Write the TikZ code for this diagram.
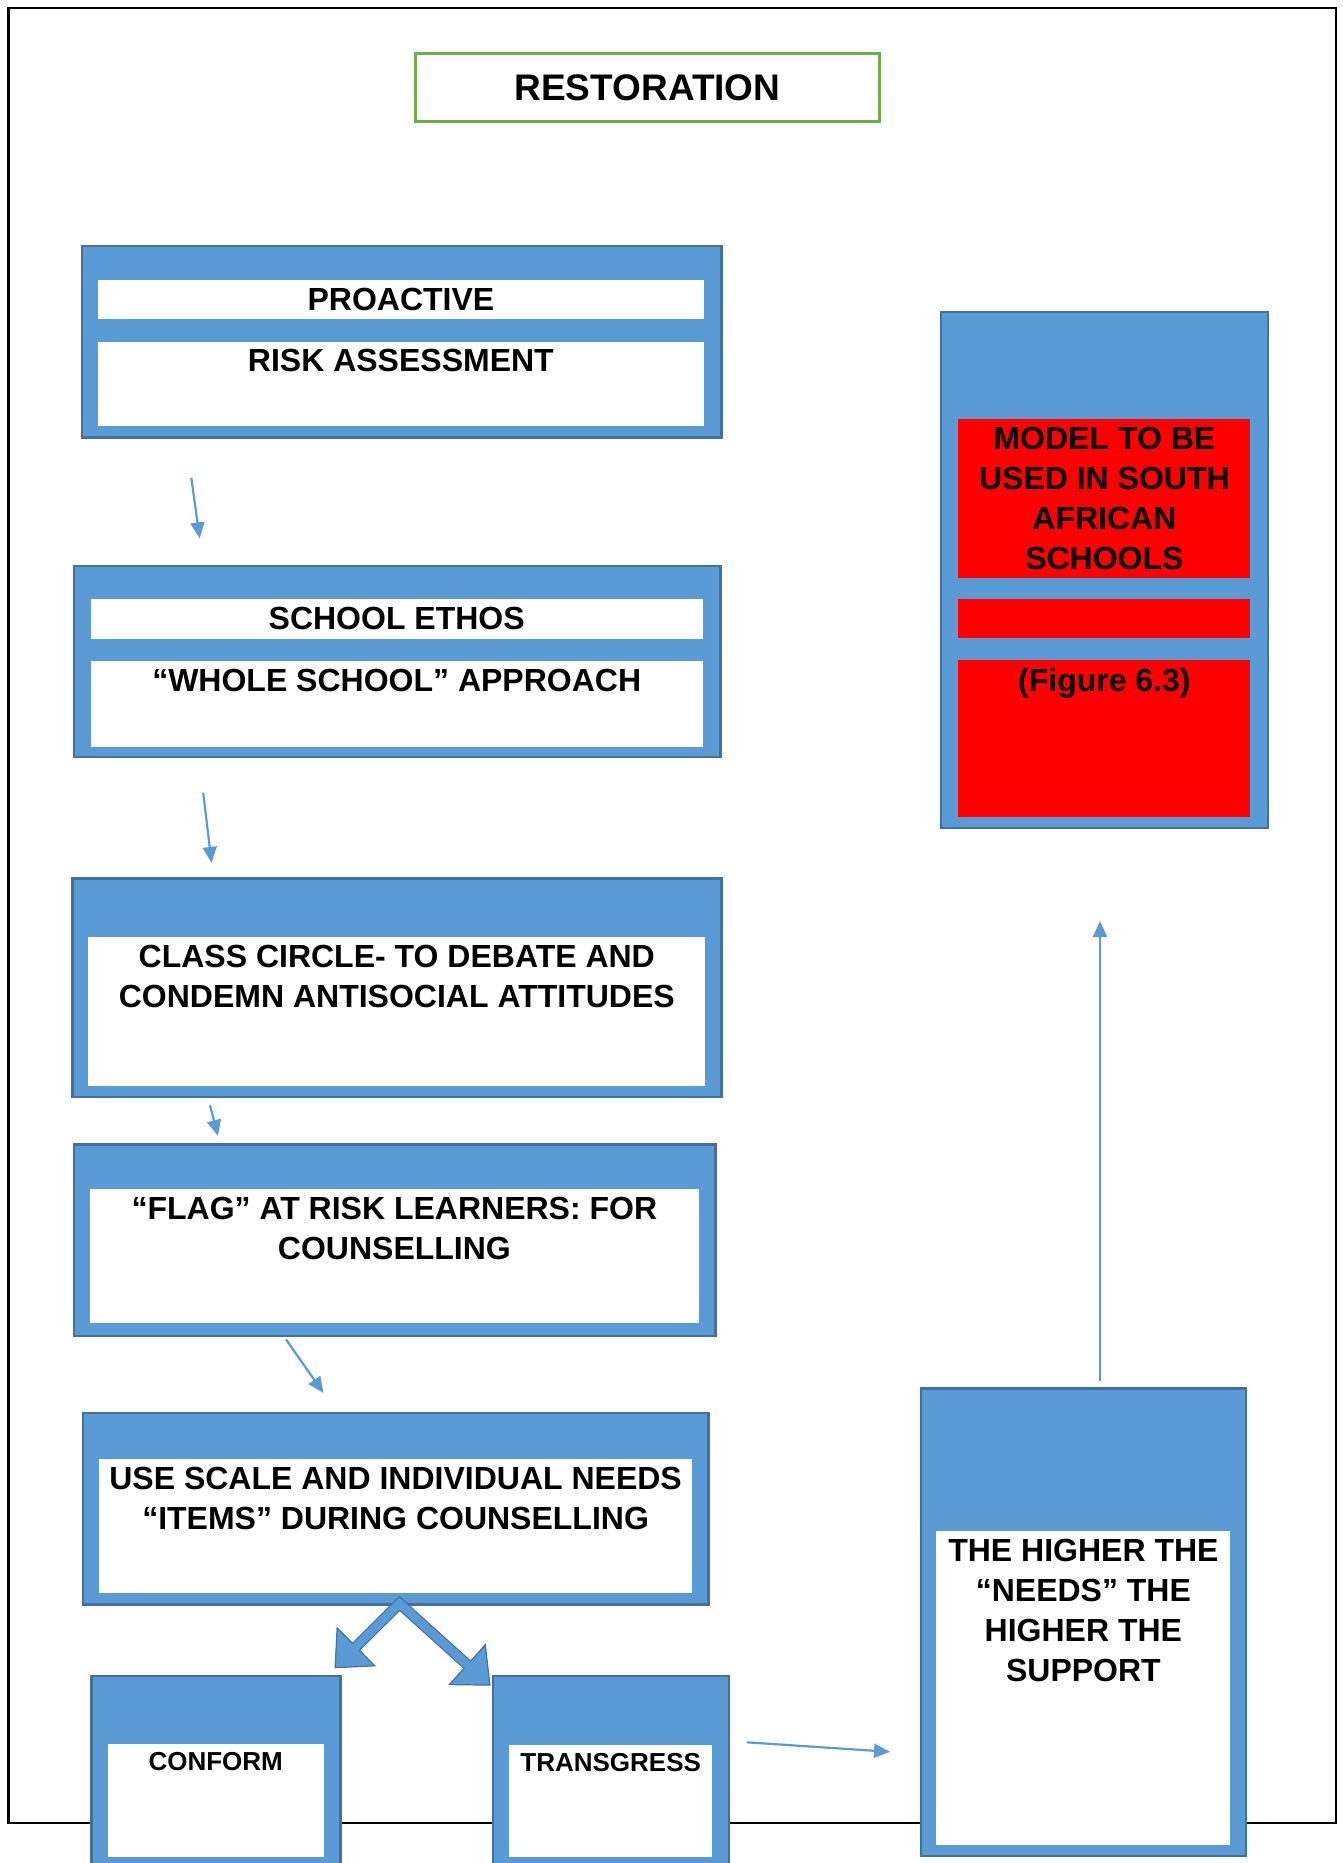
\documentclass[tikz,border=0pt]{standalone}
\usepackage{fontspec}
\setmainfont{Liberation Sans}
\usetikzlibrary{arrows.meta}
\definecolor{boxblue}{RGB}{91,155,213}
\definecolor{edgeblue}{RGB}{65,113,156}
\definecolor{titlegreen}{RGB}{112,173,71}
\definecolor{modelred}{RGB}{255,0,0}

\begin{document}
\begin{tikzpicture}[x=0.5pt, y=-0.5pt,
    box/.style={draw=edgeblue, fill=boxblue, line width=1.2pt, anchor=north west, inner sep=0pt},
    strip/.style={fill=white, anchor=north west, inner sep=0pt},
    redstrip/.style={fill=modelred, anchor=north west, inner sep=0pt},
    txt/.style={anchor=north, inner sep=4pt, align=center, font=\bfseries\fontsize{16}{20}\selectfont},
    smalltxt/.style={txt, font=\bfseries\fontsize{13}{16}\selectfont},
    link/.style={draw=boxblue, line width=1.1pt, -{Triangle[length=8pt, width=7pt]}}]
    \useasboundingbox (0,0) rectangle (1343,1863);
    \clip (0,0) rectangle (1343,1863);

    \draw[line width=1.15pt] (8.6,8) rectangle (1336,1823);

    \node[draw=titlegreen, line width=1.5pt, anchor=north west, inner sep=0pt, minimum width=232.4pt, minimum height=33.9pt, font=\bfseries\fontsize{18.5}{22}\selectfont] (0) at (413.6,52.3) {RESTORATION};

    \node[box, minimum width=319.7pt, minimum height=95.7pt] (1) at (80.8,244.8) {};
    \node[strip, minimum width=303pt, minimum height=19.6pt] (1a) at (97.5,279.3) {};
    \node[strip, minimum width=303pt, minimum height=42.2pt] (1b) at (97.5,341.1) {};
    \node[txt] (t1a) at (1a.north) {PROACTIVE};
    \node[txt] (t1b) at (1b.north) {RISK ASSESSMENT};

    \node[box, minimum width=323.3pt, minimum height=95.7pt] (2) at (72.5,564.5) {};
    \node[strip, minimum width=306pt, minimum height=19.6pt] (2a) at (90.3,599) {};
    \node[strip, minimum width=306pt, minimum height=42.8pt] (2b) at (90.3,660.8) {};
    \node[txt] (t2a) at (2a.north) {SCHOOL ETHOS};
    \node[txt] (t2b) at (2b.north) {“WHOLE SCHOOL” APPROACH};

    \node[box, minimum width=324.5pt, minimum height=109.4pt] (3) at (71.3,877.1) {};
    \node[strip, minimum width=308.5pt, minimum height=74.3pt] (3a) at (87.9,936.5) {};
    \node[txt] (t3a) at (3a.north) {CLASS CIRCLE- TO DEBATE AND\\CONDEMN ANTISOCIAL ATTITUDES};

    \node[box, minimum width=320.9pt, minimum height=95.7pt] (4) at (72.5,1143.3) {};
    \node[strip, minimum width=304.9pt, minimum height=67.2pt] (4a) at (89.1,1188.5) {};
    \node[txt] (t4a) at (4a.north) {“FLAG” AT RISK LEARNERS: FOR\\COUNSELLING};

    \node[box, minimum width=312.6pt, minimum height=95.7pt] (5) at (82,1411.9) {};
    \node[strip, minimum width=296.6pt, minimum height=67.2pt] (5a) at (98.6,1458.3) {};
    \node[txt] (t5a) at (5a.north) {USE SCALE AND INDIVIDUAL NEEDS\\“ITEMS” DURING COUNSELLING};

    \node[box, minimum width=124.5pt, minimum height=100pt] (6) at (90.3,1675) {};
    \node[strip, minimum width=107.8pt, minimum height=56.3pt] (6a) at (107.5,1744) {};
    \node[smalltxt] (t6a) at (6a.north) {CONFORM};

    \node[box, minimum width=118pt, minimum height=100pt] (7) at (491.5,1675) {};
    \node[strip, minimum width=101.5pt, minimum height=56pt] (7a) at (508.8,1745) {};
    \node[smalltxt] (t7a) at (7a.north) {TRANSGRESS};

    \node[box, minimum width=162.6pt, minimum height=233.8pt] (8) at (919.5,1387.2) {};
    \node[strip, minimum width=147pt, minimum height=157pt] (8a) at (936,1531) {};
    \node[txt] (t8a) at (8a.north) {THE HIGHER THE\\“NEEDS” THE\\HIGHER THE\\SUPPORT};

    \node[box, minimum width=163.5pt, minimum height=258pt] (9) at (940,311) {};
    \node[redstrip, minimum width=146pt, minimum height=79.5pt] (9a) at (958,418.5) {};
    \node[redstrip, minimum width=146pt, minimum height=19.5pt] (9b) at (958,599) {};
    \node[redstrip, minimum width=146pt, minimum height=78.5pt] (9c) at (958,659.5) {};
    \node[txt] (t9a) at (9a.north) {MODEL TO BE\\USED IN SOUTH\\AFRICAN\\SCHOOLS};
    \node[txt] (t9c) at (9c.north) {(Figure 6.3)};

    \coordinate (p1) at (191.3,477.8);
    \coordinate (q1) at (199.7,538.4);
    \coordinate (p2) at (203.2,792.7);
    \coordinate (q2) at (211.6,862.9);
    \coordinate (p3) at (210,1105.3);
    \coordinate (q3) at (218,1136);
    \coordinate (p4) at (286,1339.4);
    \coordinate (q4) at (323.5,1393);
    \coordinate (p5) at (747,1742.3);
    \coordinate (q5) at (890,1751.8);
    \coordinate (p6) at (1100,1381);
    \coordinate (q6) at (1100,921);

    \draw[link] (p1) -- (q1);
    \draw[link] (p2) -- (q2);
    \draw[link] (p3) -- (q3);
    \draw[link] (p4) -- (q4);
    \draw[link] (p5) -- (q5);
    \draw[link] (p6) -- (q6);

    \coordinate (apex) at (399.5,1603.5);
    \coordinate (tipl) at (334.5,1668.3);
    \coordinate (tipr) at (490.6,1685.7);
    \draw[edgeblue, line width=5.5pt, line join=miter, {Triangle[length=15.5pt, width=28pt, line width=0.6pt, fill=boxblue]}-{Triangle[length=16pt, width=28pt, line width=0.6pt, fill=boxblue]}] (tipl) -- (apex) -- (tipr);
    \draw[boxblue, line width=4.3pt, line join=miter, shorten <=14.5pt, shorten >=14.5pt] (tipl) -- (apex) -- (tipr);
  \end{tikzpicture}
\end{document}
